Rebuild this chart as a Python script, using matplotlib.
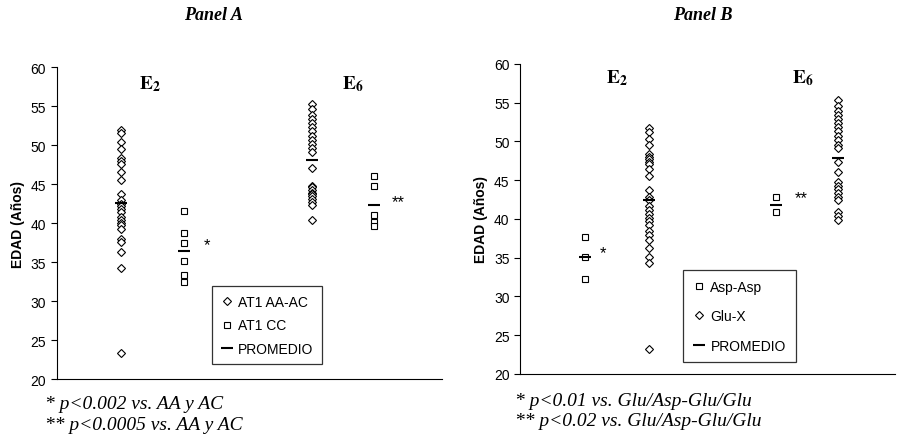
import matplotlib
matplotlib.use("Agg")
import matplotlib.pyplot as plt
import numpy as np

plt.rcParams['font.family'] = ['Liberation Sans', 'DejaVu Sans']
plt.rcParams['mathtext.fontset'] = 'stix'

# Panel A data (edad, años)
a_aa_e2 = [51.9, 51.5, 50.4, 49.5, 48.3, 48.0, 47.6, 46.5, 45.5, 43.7, 42.9, 42.5, 42.2,
           41.8, 41.4, 40.8, 40.4, 40.0, 39.7, 39.3, 38.0, 37.6, 36.3, 34.2, 23.3]
a_cc_e2 = [41.6, 38.7, 37.4, 35.2, 33.3, 32.5]
a_aa_e6 = [55.3, 54.6, 53.8, 53.3, 52.8, 52.3, 51.8, 51.2, 50.6, 50.1, 49.6, 49.1, 47.1,
           44.8, 44.6, 44.3, 43.9, 43.7, 43.5, 43.1, 42.7, 42.3, 40.4]
a_cc_e6 = [46.0, 44.8, 41.0, 40.2, 39.6]

# Panel B data
b_asp_e2 = [37.7, 35.1, 32.3]
b_glu_e2 = [51.8, 51.2, 50.3, 49.5, 48.4, 48.0, 47.7, 47.4, 47.1, 46.4, 45.6, 43.7, 42.8, 42.4,
            41.7, 41.2, 40.6, 40.1, 39.7, 39.2, 38.5, 37.9, 37.3, 36.2, 35.1, 34.3, 23.2]
b_asp_e6 = [42.8, 40.9]
b_glu_e6 = [55.3, 54.6, 53.9, 53.4, 52.9, 52.4, 51.9, 51.3, 50.7, 50.2, 49.6, 49.1, 47.3,
            46.0, 44.8, 44.3, 43.8, 43.3, 42.8, 42.4, 40.9, 40.4, 39.8]

fig = plt.figure(figsize=(8.98, 4.39), dpi=100)

DIAM = dict(marker='D', ms=4.2, mfc='white', mec='black', mew=0.8)
SQR = dict(marker='s', ms=4.0, mfc='white', mec='black', mew=0.8)


def column(ax, x, vals, style):
    ax.plot([x] * len(vals), vals, linestyle='none', zorder=3, **style)
    ax.plot([x], [np.mean(vals)], marker='_', ms=8, mew=1.5, color='black', zorder=4)


def style_axes(ax):
    ax.set_xlim(0, 10)
    ax.set_ylim(20, 60)
    ax.set_yticks(range(20, 61, 5))
    ax.set_xticks([])
    ax.spines['top'].set_visible(False)
    ax.spines['right'].set_visible(False)
    ax.tick_params(axis='y', direction='out', length=4, labelsize=10)
    ax.set_ylabel('EDAD (Años)', fontsize=10, fontweight='bold')
    ax.patch.set_alpha(0)


# Panel A
axA = fig.add_axes([0.063, 0.134, 0.429, 0.711])
style_axes(axA)
column(axA, 1.66, a_aa_e2, DIAM)
column(axA, 3.32, a_cc_e2, SQR)
column(axA, 6.62, a_aa_e6, DIAM)
column(axA, 8.23, a_cc_e6, SQR)
axA.text(3.9, np.mean(a_cc_e2) + 0.8, '*', fontsize=12, ha='center', va='center')
axA.text(8.86, 42.8, '**', fontsize=12, ha='center', va='center')
axA.text(2.42, 58.0, r'$\mathbf{E}_{\mathbf{2}}$', fontsize=14, ha='center', va='center')
axA.text(7.69, 58.0, r'$\mathbf{E}_{\mathbf{6}}$', fontsize=14, ha='center', va='center')
hA = [plt.Line2D([], [], ls='none', **DIAM),
      plt.Line2D([], [], ls='none', **SQR),
      plt.Line2D([], [], ls='none', marker='_', ms=8, mew=1.5, color='black')]
legA = axA.legend(hA, ['AT1 AA-AC', 'AT1 CC', 'PROMEDIO'], loc='lower left',
                  bbox_to_anchor=(0.385, 0.025), fontsize=10, frameon=True, fancybox=False,
                  edgecolor='black', labelspacing=0.7, handletextpad=0.3, handlelength=1.0,
                  borderpad=0.6)
legA.get_frame().set_linewidth(0.9)

# Panel B
axB = fig.add_axes([0.579, 0.146, 0.418, 0.706])
style_axes(axB)
column(axB, 1.73, b_asp_e2, SQR)
column(axB, 3.43, b_glu_e2, DIAM)
column(axB, 6.81, b_asp_e6, SQR)
column(axB, 8.48, b_glu_e6, DIAM)
axB.text(2.2, 35.6, '*', fontsize=12, ha='center', va='center')
axB.text(7.5, 42.8, '**', fontsize=12, ha='center', va='center')
axB.text(2.58, 58.3, r'$\mathbf{E}_{\mathbf{2}}$', fontsize=14, ha='center', va='center')
axB.text(7.53, 58.3, r'$\mathbf{E}_{\mathbf{6}}$', fontsize=14, ha='center', va='center')
hB = [hA[1], hA[0], hA[2]]
legB = axB.legend(hB, ['Asp-Asp', 'Glu-X', 'PROMEDIO'], loc='lower left',
                  bbox_to_anchor=(0.415, 0.015), fontsize=10, frameon=True, fancybox=False,
                  edgecolor='black', labelspacing=1.1, handletextpad=0.3, handlelength=1.0,
                  borderpad=0.7)
legB.get_frame().set_linewidth(0.9)

# titles and footnotes
serif = ['Liberation Serif', 'DejaVu Serif']
fig.text(213 / 898, 1 - 15 / 439, 'Panel A', family=serif, style='italic', weight='bold',
         fontsize=13, ha='center', va='center')
fig.text(703 / 898, 1 - 15 / 439, 'Panel B', family=serif, style='italic', weight='bold',
         fontsize=13, ha='center', va='center')
fig.text(45 / 898, 1 - 405 / 439, '* p<0.002 vs. AA y AC', family=serif, style='italic',
         fontsize=14, va='center')
fig.text(45 / 898, 1 - 426 / 439, '** p<0.0005 vs. AA y AC', family=serif, style='italic',
         fontsize=14, va='center')
fig.text(515 / 898, 1 - 402 / 439, '* p<0.01 vs. Glu/Asp-Glu/Glu', family=serif, style='italic',
         fontsize=14, va='center')
fig.text(515 / 898, 1 - 422 / 439, '** p<0.02 vs. Glu/Asp-Glu/Glu', family=serif, style='italic',
         fontsize=14, va='center')

fig.savefig('out.png', dpi=100)
